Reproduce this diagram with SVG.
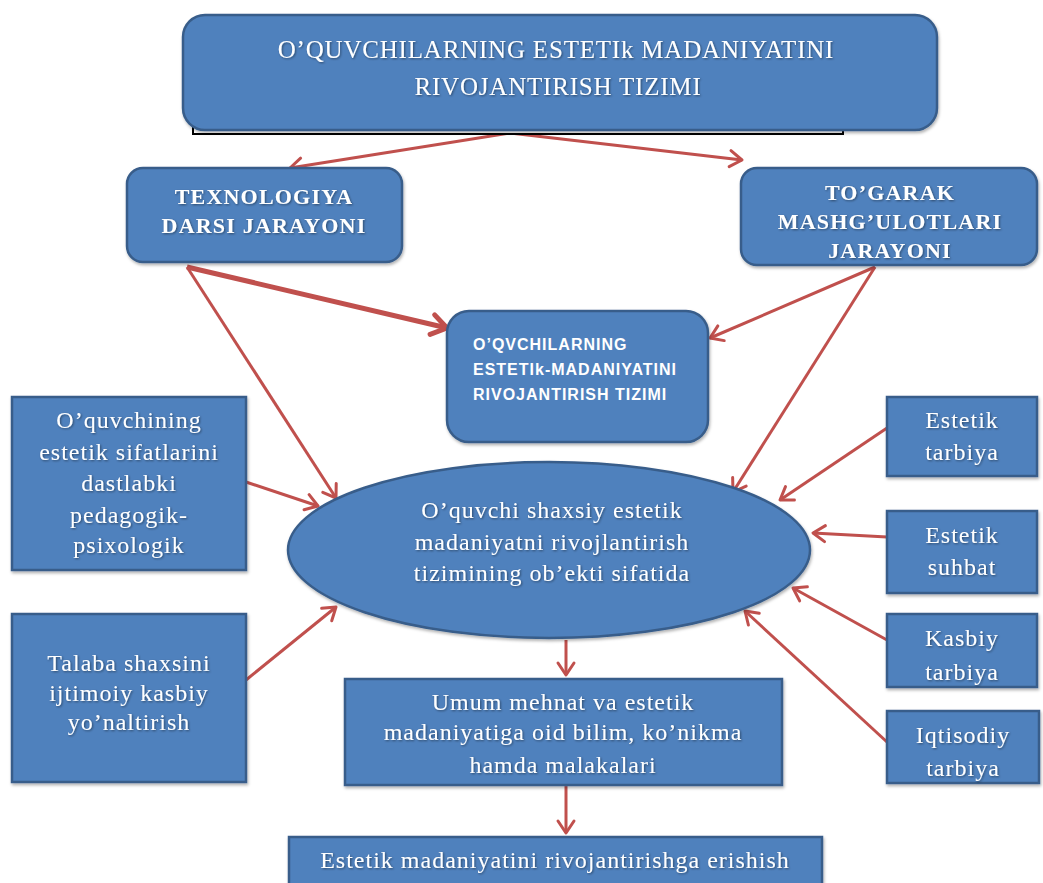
<svg xmlns="http://www.w3.org/2000/svg" width="1043" height="883" viewBox="0 0 1043 883">
<style>
.box{fill:#4F81BD;stroke:#385D8A;stroke-width:2.5}
.t{font-family:"Liberation Serif","Times New Roman",serif;fill:#fff;font-size:24px;letter-spacing:1px;text-anchor:middle}
.tb{font-family:"Liberation Serif","Times New Roman",serif;fill:#fff;font-size:22px;font-weight:bold;letter-spacing:1.2px;text-anchor:middle}
.ts{font-family:"Liberation Sans",Arial,sans-serif;fill:#fff;font-size:16px;font-weight:bold;letter-spacing:1px}
.c{stroke:#C0504D;stroke-width:3;fill:none;marker-end:url(#ah)}
.ck{stroke:#C0504D;stroke-width:5;fill:none;marker-end:url(#ahk)}
</style>
<defs>
<marker id="ah" markerUnits="userSpaceOnUse" markerWidth="24" markerHeight="24" viewBox="0 0 24 24" refX="20" refY="12" orient="auto">
<path d="M8,4 L20,12 L8,20" fill="none" stroke="#C0504D" stroke-width="3" stroke-linecap="round" stroke-linejoin="round"/>
</marker>
<marker id="ahk" markerUnits="userSpaceOnUse" markerWidth="30" markerHeight="30" viewBox="0 0 30 30" refX="25" refY="15" orient="auto">
<path d="M10,5 L25,15 L10,25" fill="none" stroke="#C0504D" stroke-width="5" stroke-linecap="round" stroke-linejoin="round"/>
</marker>
<filter id="sh" x="-10%" y="-10%" width="120%" height="130%">
<feDropShadow dx="1" dy="2" stdDeviation="1.5" flood-color="#000" flood-opacity="0.3"/>
</filter>
<filter id="tsh" x="-5%" y="-20%" width="110%" height="140%">
<feDropShadow dx="1" dy="1" stdDeviation="0.8" flood-color="#000" flood-opacity="0.45"/>
</filter>
</defs>
<rect width="1043" height="883" fill="#fff"/>

<g id="connectors">
<path class="c" d="M510,133 L290,168"/>
<path class="c" d="M510,133 L742,160"/>
<path class="ck" d="M187,267 L447,328"/>
<path class="c" d="M187,267 L336,498"/>
<path class="c" d="M875,267 L710,338"/>
<path class="c" d="M875,267 L733,492"/>
<path class="c" d="M246,482 L318,506"/>
<path class="c" d="M246,680 L336,607"/>
<path class="c" d="M887,428 L780,500"/>
<path class="c" d="M887,537 L813,533"/>
<path class="c" d="M887,640 L793,588"/>
<path class="c" d="M887,742 L745,611"/>
<path class="c" d="M566,640 L566,675"/>
<path class="c" d="M566,786 L566,833"/>
</g>

<g id="top">
<rect x="193" y="100" width="650" height="34" fill="#fff" stroke="#000" stroke-width="2"/>
<rect class="box" x="183" y="15" width="754" height="115" rx="22" filter="url(#sh)"/>
<g filter="url(#tsh)">
<text class="t" x="556" y="58" style="font-size:25px;letter-spacing:0.8px">O’QUVCHILARNING ESTETIk MADANIYATINI</text>
<text class="t" x="558" y="95" style="font-size:25px;letter-spacing:0.8px">RIVOJANTIRISH TIZIMI</text>
</g>
</g>

<g id="texnologiya">
<rect class="box" x="127" y="168" width="275" height="94" rx="16" filter="url(#sh)"/>
<g filter="url(#tsh)">
<text class="tb" x="264" y="204">TEXNOLOGIYA</text>
<text class="tb" x="264" y="233">DARSI JARAYONI</text>
</g>
</g>

<g id="togarak">
<rect class="box" x="741" y="168" width="296" height="97" rx="16" filter="url(#sh)"/>
<g filter="url(#tsh)">
<text class="tb" x="890" y="200">TO’GARAK</text>
<text class="tb" x="890" y="229">MASHG’ULOTLARI</text>
<text class="tb" x="890" y="258">JARAYONI</text>
</g>
</g>

<g id="tizim">
<rect class="box" x="447" y="311" width="261" height="131" rx="22" filter="url(#sh)"/>
<text class="ts" x="473" y="350">O’QVCHILARNING</text>
<text class="ts" x="473" y="375">ESTETIk-MADANIYATINI</text>
<text class="ts" x="473" y="400">RIVOJANTIRISH TIZIMI</text>
</g>

<g id="sifatlar">
<rect class="box" x="12" y="397" width="234" height="173" filter="url(#sh)"/>
<g filter="url(#tsh)">
<text class="t" x="129" y="428">O’quvchining</text>
<text class="t" x="129" y="460">estetik sifatlarini</text>
<text class="t" x="129" y="491">dastlabki</text>
<text class="t" x="129" y="523">pedagogik-</text>
<text class="t" x="129" y="553">psixologik</text>
</g>
</g>

<g id="talaba">
<rect class="box" x="12" y="614" width="234" height="168" filter="url(#sh)"/>
<g filter="url(#tsh)">
<text class="t" x="129" y="671">Talaba shaxsini</text>
<text class="t" x="129" y="701">ijtimoiy kasbiy</text>
<text class="t" x="129" y="730">yo’naltirish</text>
</g>
</g>

<g id="ellipse">
<ellipse class="box" cx="549" cy="550" rx="261" ry="88" filter="url(#sh)"/>
<g filter="url(#tsh)">
<text class="t" x="552" y="518">O’quvchi shaxsiy estetik</text>
<text class="t" x="552" y="550">madaniyatni rivojlantirish</text>
<text class="t" x="552" y="581">tizimining ob’ekti sifatida</text>
</g>
</g>

<g id="estetik-tarbiya">
<rect class="box" x="887" y="397" width="150" height="79" filter="url(#sh)"/>
<g filter="url(#tsh)">
<text class="t" x="962" y="428">Estetik</text>
<text class="t" x="962" y="460">tarbiya</text>
</g>
</g>

<g id="estetik-suhbat">
<rect class="box" x="887" y="511" width="150" height="82" filter="url(#sh)"/>
<g filter="url(#tsh)">
<text class="t" x="962" y="543">Estetik</text>
<text class="t" x="962" y="575">suhbat</text>
</g>
</g>

<g id="kasbiy">
<rect class="box" x="887" y="614" width="150" height="73" filter="url(#sh)"/>
<g filter="url(#tsh)">
<text class="t" x="962" y="646">Kasbiy</text>
<text class="t" x="962" y="680">tarbiya</text>
</g>
</g>

<g id="iqtisodiy">
<rect class="box" x="887" y="711" width="152" height="72" filter="url(#sh)"/>
<g filter="url(#tsh)">
<text class="t" x="963" y="743">Iqtisodiy</text>
<text class="t" x="963" y="776">tarbiya</text>
</g>
</g>

<g id="umum">
<rect class="box" x="345" y="679" width="437" height="106" filter="url(#sh)"/>
<g filter="url(#tsh)">
<text class="t" x="563" y="710">Umum mehnat va estetik</text>
<text class="t" x="563" y="740">madaniyatiga oid bilim, ko’nikma</text>
<text class="t" x="563" y="773">hamda malakalari</text>
</g>
</g>

<g id="erishish">
<rect class="box" x="289" y="837" width="533" height="60" filter="url(#sh)"/>
<g filter="url(#tsh)">
<text class="t" x="555" y="868">Estetik madaniyatini rivojantirishga erishish</text>
</g>
</g>
</svg>
